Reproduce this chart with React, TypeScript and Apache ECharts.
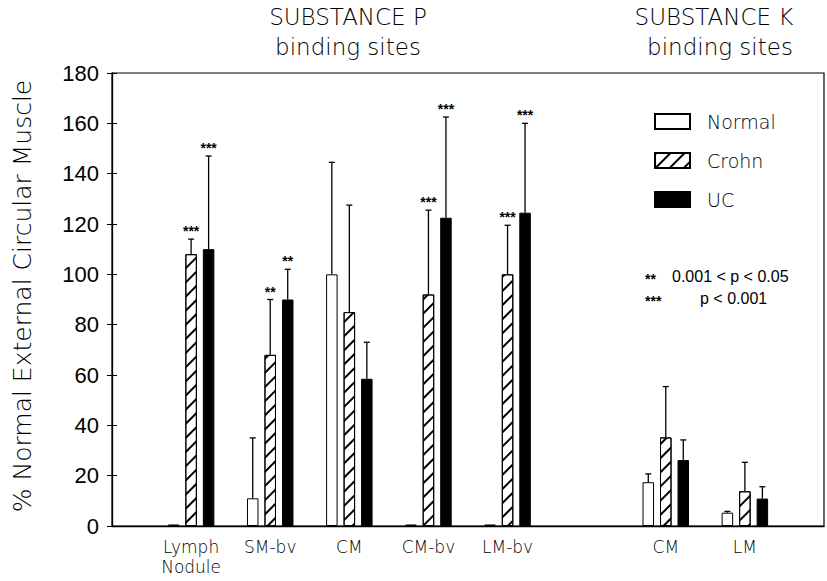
import React, { useEffect, useRef } from "react";
import * as echarts from "echarts";

const categories = ["", "Lymph\nNodule", "SM-bv", "CM", "CM-bv", "LM-bv", "", "CM", "LM", ""];
const seriesNames = ["Normal", "Crohn", "UC"];
const normalMean = [null, 0.6, 11, 100, 0.6, 0.6, null, 17.4, 5.3, null];
const normalUpper = [null, null, 35, 144.5, null, null, null, 20.7, 5.8, null];
const crohnMean = [null, 108, 68, 85, 92, 100, null, 35.2, 13.8, null];
const crohnUpper = [null, 114, 90, 127.5, 125.5, 119.5, null, 55.4, 25.3, null];
const ucMean = [null, 110, 90, 58.5, 122.5, 124.5, null, 26.2, 10.9, null];
const ucUpper = [null, 147, 102, 73, 162.5, 160, null, 34.2, 15.6, null];
const normalSig = ["", "", "", "", "", "", "", "", "", ""];
const crohnSig = ["", "***", "**", "", "***", "***", "", "", "", ""];
const ucSig = ["", "***", "**", "", "***", "***", "", "", "", ""];
const yTicks = { min: 0, max: 180, interval: 20 };
const titles = [
  { line1: "SUBSTANCE P", line2: "binding sites", x1: 348, x2: 348 },
  { line1: "SUBSTANCE K", line2: "binding sites", x1: 714, x2: 720 },
];
const yTitle = "% Normal External Circular Muscle";
const noteLines = [
  { stars: "**", text: "0.001 < p < 0.05", tx: 672 },
  { stars: "***", text: "p < 0.001", tx: 700 },
];

const FONT = "'DejaVu Sans'";
const NUMFONT = "'Liberation Sans'";
const W = 200;
const BAR_W = 11.5;
const BAR_STEP = 17.5;

function errData(mean: (number | null)[], upper: (number | null)[], sig: string[]) {
  const out: any[] = [];
  mean.forEach((m, i) => {
    if (m == null) return;
    const u = upper[i];
    out.push([i, m, u == null ? m : u, sig[i] || ""]);
  });
  return out;
}

function makeErrSeries(idx: number, data: any[]) {
  return {
    type: "custom",
    name: "err" + idx,
    z: 5,
    data,
    renderItem: (params: any, api: any) => {
      const cat = api.value(0);
      const mean = api.value(1);
      const hi = api.value(2);
      const sig = data[params.dataIndex][3];
      const b = api.coord([cat, mean]);
      const t = api.coord([cat, hi]);
      const x = b[0] + (idx - 1) * BAR_STEP;
      const children: any[] = [];
      if (hi > mean) {
        children.push({
          type: "line",
          shape: { x1: x, y1: b[1], x2: x, y2: t[1] },
          style: { stroke: "#000", lineWidth: 1.3 },
        });
        children.push({
          type: "line",
          shape: { x1: x - 3, y1: t[1], x2: x + 3, y2: t[1] },
          style: { stroke: "#000", lineWidth: 1.3 },
        });
      }
      if (sig) {
        children.push({
          type: "text",
          x: x,
          y: t[1] - 8,
          style: {
            text: sig,
            fill: "#000",
            font: "bold 14px " + NUMFONT,
            textAlign: "center",
            textVerticalAlign: "middle",
          },
        });
      }
      return { type: "group", children };
    },
  };
}

export default function App() {
  const ref = useRef<HTMLDivElement>(null);
  useEffect(() => {
    if (!ref.current) return;
    const chart = echarts.init(ref.current, null, { renderer: "svg" });
    const graphics: any[] = [];
    titles.forEach((t) => {
      graphics.push({
        type: "text",
        x: t.x1,
        y: 17,
        style: { text: t.line1, font: W + " 23px " + FONT, fill: "#000", textAlign: "center", textVerticalAlign: "middle" },
      });
      graphics.push({
        type: "text",
        x: t.x2,
        y: 47,
        style: { text: t.line2, font: W + " 23px " + FONT, fill: "#000", textAlign: "center", textVerticalAlign: "middle" },
      });
    });
    graphics.push({
      type: "text",
      x: 22,
      y: 296,
      rotation: Math.PI / 2,
      style: { text: yTitle, font: W + " 25px " + FONT, fill: "#000", textAlign: "center", textVerticalAlign: "middle" },
    });
    noteLines.forEach((n, i) => {
      const y = 276 + i * 22;
      graphics.push({
        type: "text",
        x: 645,
        y: y + 3,
        style: { text: n.stars, font: "bold 14px " + NUMFONT, fill: "#000", textAlign: "left", textVerticalAlign: "middle" },
      });
      graphics.push({
        type: "text",
        x: n.tx,
        y,
        style: { text: n.text, font: "16px " + NUMFONT, fill: "#000", textAlign: "left", textVerticalAlign: "middle" },
      });
    });

    const barBase = {
      type: "bar",
      barWidth: BAR_W,
      barGap: ((BAR_STEP - BAR_W) / BAR_W) * 100 + "%",
    };

    chart.setOption({
      animation: false,
      backgroundColor: "#fff",
      grid: { left: 112, right: 3, top: 73, bottom: 55, show: true, borderColor: "#000", borderWidth: 1.2 },
      legend: {
        data: seriesNames,
        orient: "vertical",
        left: 654,
        top: 112,
        padding: 0,
        itemWidth: 35,
        itemHeight: 15,
        itemGap: 20,
        icon: "rect",
        textStyle: { fontFamily: FONT, fontWeight: W, fontSize: 19, color: "#000", padding: [0, 0, 0, 12] },
      },
      xAxis: {
        type: "category",
        data: categories,
        boundaryGap: false,
        axisTick: { show: false },
        axisLine: { lineStyle: { color: "#000", width: 1.3 } },
        axisLabel: { interval: 0, color: "#000", fontFamily: FONT, fontWeight: W, fontSize: 17, lineHeight: 20, margin: 11 },
        splitLine: { show: false },
      },
      yAxis: [
        {
          type: "value",
          ...yTicks,
          axisLine: { show: true, lineStyle: { color: "#000", width: 1.3 } },
          axisTick: { show: true, length: 5, lineStyle: { color: "#000" } },
          axisLabel: { color: "#000", fontFamily: NUMFONT, fontSize: 22, margin: 13 },
          splitLine: { show: false },
        },
        {
          type: "value",
          position: "left",
          ...yTicks,
          axisLine: { show: false },
          axisTick: { show: true, inside: true, length: 5, lineStyle: { color: "#000" } },
          axisLabel: { show: false },
          splitLine: { show: false },
        },
      ],
      graphic: graphics,
      series: [
        {
          ...barBase,
          name: "Normal",
          data: normalMean,
          itemStyle: { color: "#fff", borderColor: "#000", borderWidth: 1 },
        },
        {
          ...barBase,
          name: "Crohn",
          data: crohnMean,
          itemStyle: {
            color: "#fff",
            borderColor: "#000",
            borderWidth: 1,
            decal: {
              symbol: "rect",
              symbolSize: 1,
              dashArrayX: [1, 0],
              dashArrayY: [1.2, 7.5],
              rotation: -Math.PI / 4,
              color: "#000",
              backgroundColor: "#fff",
            },
          },
        },
        {
          ...barBase,
          name: "UC",
          data: ucMean,
          itemStyle: { color: "#000", borderColor: "#000", borderWidth: 1 },
        },
        makeErrSeries(0, errData(normalMean, normalUpper, normalSig)),
        makeErrSeries(1, errData(crohnMean, crohnUpper, crohnSig)),
        makeErrSeries(2, errData(ucMean, ucUpper, ucSig)),
      ],
    });
    return () => chart.dispose();
  }, []);
  return <div ref={ref} style={{ position: "fixed", left: 0, top: 0, width: 827, height: 581 }} />;
}
